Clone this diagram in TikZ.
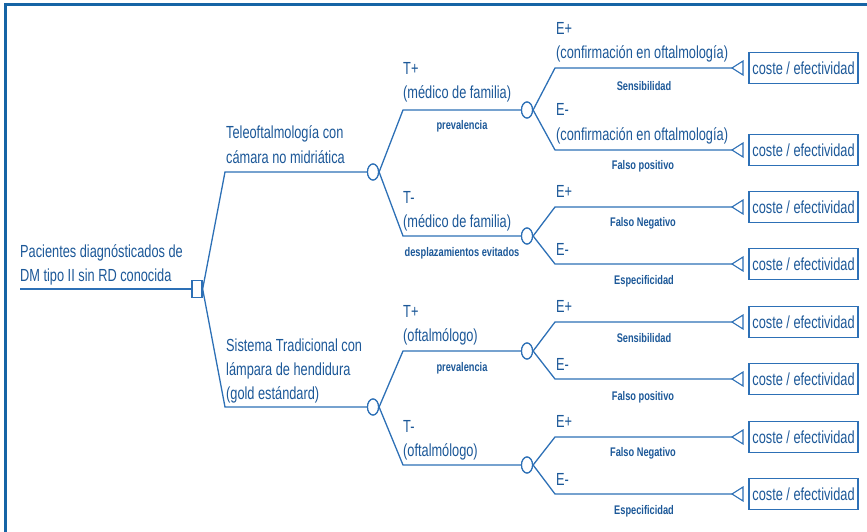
\documentclass[tikz,border=0pt]{standalone}
\usepackage{fontspec}
\setmainfont{Liberation Sans}[FakeStretch=0.73]
\newfontfamily\smallfam{Liberation Sans}[FakeStretch=0.74]
\usetikzlibrary{shapes.geometric}
\definecolor{lnc}{RGB}{45,112,182}
\definecolor{txc}{RGB}{28,88,152}
\definecolor{frc}{RGB}{22,100,165}
\tikzset{
  lbl/.style={anchor=base west,inner sep=0pt,text=txc,font=\fontsize{17.5}{20}\selectfont},
  sml/.style={anchor=center,inner sep=0pt,text=txc,font=\smallfam\fontsize{12.5}{14}\selectfont\bfseries},
  br/.style={draw=lnc,line width=1.3pt,line join=miter},
  chance/.style={ellipse,draw=lnc,line width=1.2pt,fill=white,minimum width=11pt,minimum height=16pt,inner sep=0pt},
  decis/.style={rectangle,draw=lnc,line width=1.3pt,fill=white,minimum width=10pt,minimum height=17pt,inner sep=0pt},
  outc/.style={rectangle,draw=lnc,line width=1.3pt,minimum width=109pt,minimum height=31pt,inner sep=0pt,text=txc,font=\fontsize{17.5}{20}\selectfont},
  tri/.style={draw=lnc,line width=1.1pt,fill=white,line join=miter}
}
\begin{document}
\begin{tikzpicture}[x=1pt,y=-1pt]
\useasboundingbox (0,0) rectangle (867,532);
% frame
\draw[frc,line width=2.5pt] (5.3,532) -- (5.3,4.5) -- (867,4.5);

% decision and chance nodes
\node[decis] (d0) at (197,289) {};
\node[chance] (c1) at (373,172) {};
\node[chance] (c2) at (373,407) {};
\node[chance] (c11) at (527,110) {};
\node[chance] (c12) at (527,236) {};
\node[chance] (c21) at (527,351) {};
\node[chance] (c22) at (527,465) {};

% corner coordinates
\coordinate (r0) at (20,289);
\coordinate (k1) at (225,172);
\coordinate (k2) at (225,407);
\coordinate (k11) at (403,110);
\coordinate (k12) at (403,236);
\coordinate (k21) at (403,351);
\coordinate (k22) at (403,465);
\coordinate (e1) at (555,68);
\coordinate (e2) at (555,150);
\coordinate (e3) at (555,207);
\coordinate (e4) at (555,264);
\coordinate (e5) at (555,322);
\coordinate (e6) at (555,379);
\coordinate (e7) at (555,437);
\coordinate (e8) at (555,494);
\foreach \i/\y in {1/68,2/150,3/207,4/264,5/322,6/379,7/437,8/494}{
  \coordinate (t\i) at (732,\y);
  \node[outc] (o\i) at (803.5,\y) {coste / efectividad};
}

% connectors
\draw[br] (r0) -- (d0.west);
\draw[br] (d0.east) -- (k1) -- (c1.west);
\draw[br] (d0.east) -- (k2) -- (c2.west);
\draw[br] (c1.east) -- (k11) -- (c11.west);
\draw[br] (c1.east) -- (k12) -- (c12.west);
\draw[br] (c2.east) -- (k21) -- (c21.west);
\draw[br] (c2.east) -- (k22) -- (c22.west);
\draw[br] (c11.east) -- (e1) -- (t1);
\draw[br] (c11.east) -- (e2) -- (t2);
\draw[br] (c12.east) -- (e3) -- (t3);
\draw[br] (c12.east) -- (e4) -- (t4);
\draw[br] (c21.east) -- (e5) -- (t5);
\draw[br] (c21.east) -- (e6) -- (t6);
\draw[br] (c22.east) -- (e7) -- (t7);
\draw[br] (c22.east) -- (e8) -- (t8);
\foreach \i in {1,...,8}{
  \draw[tri] (t\i) -- ++(11,-7) -- ++(0,14) -- cycle;
}
% redraw nodes on top
\node[decis] at (d0) {};
\foreach \n in {c1,c2,c11,c12,c21,c22}{\node[chance] at (\n) {};}

% main labels
\node[lbl] (la1) at (20,257) {Pacientes diagnósticados de};
\node[lbl] (la2) at (20,281) {DM tipo II sin RD conocida};
\node[lbl] (lb1) at (226,139) {Teleoftalmología con};
\node[lbl] (lb2) at (226,164) {cámara no midriática};
\node[lbl] (lc1) at (226,351) {Sistema Tradicional con};
\node[lbl] (lc2) at (226,375) {lámpara de hendidura};
\node[lbl] (lc3) at (226,399) {(gold estándard)};
\node[lbl] (ld1) at (403,75) {T+};
\node[lbl] (ld2) at (403,99) {(médico de familia)};
\node[lbl] (le1) at (403,203) {T-};
\node[lbl] (le2) at (403,227) {(médico de familia)};
\node[lbl] (lf1) at (403,317) {T+};
\node[lbl] (lf2) at (403,341) {(oftalmólogo)};
\node[lbl] (lg1) at (403,432) {T-};
\node[lbl] (lg2) at (403,456) {(oftalmólogo)};
\node[lbl] (lh1) at (556,35) {E+};
\node[lbl] (lh2) at (556,59) {(confirmación en oftalmología)};
\node[lbl] (li1) at (556,116) {E-};
\node[lbl] (li2) at (556,140) {(confirmación en oftalmología)};
\node[lbl] (lj) at (556,197) {E+};
\node[lbl] (lk) at (556,255) {E-};
\node[lbl] (ll) at (556,312) {E+};
\node[lbl] (lm) at (556,370) {E-};
\node[lbl] (ln) at (556,427) {E+};
\node[lbl] (lo) at (556,485) {E-};

% small labels
\node[sml] (s1) at (462,126) {prevalencia};
\node[sml] (s2) at (462,253) {desplazamientos evitados};
\node[sml] (s3) at (462,368) {prevalencia};
\node[sml] (s4) at (644,86) {Sensibilidad};
\node[sml] (s5) at (643,166) {Falso positivo};
\node[sml] (s6) at (643,223) {Falso Negativo};
\node[sml] (s7) at (644,281) {Especificidad};
\node[sml] (s8) at (644,338) {Sensibilidad};
\node[sml] (s9) at (643,397) {Falso positivo};
\node[sml] (s10) at (643,453) {Falso Negativo};
\node[sml] (s11) at (644,511) {Especificidad};
\end{tikzpicture}
\end{document}
